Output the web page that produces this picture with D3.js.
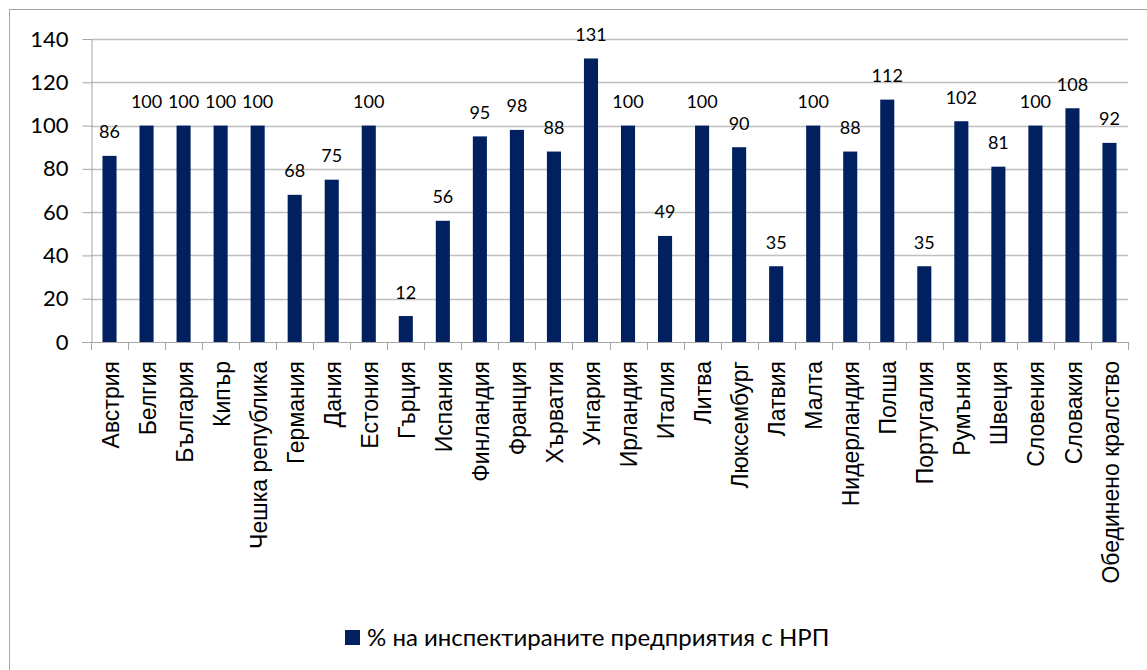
<!DOCTYPE html>
<html>
<head>
<meta charset="utf-8">
<script src="https://cdn.jsdelivr.net/npm/d3@7"></script>
<style>
  body { margin: 0; background: #fff; }
  svg { display: block; }
</style>
</head>
<body>
<div id="vis"></div>
<script>
const FRAME_WIDTH = 1147;
const FRAME_HEIGHT = 670;
const MARGINS = {left: 91, right: 19, top: 39, bottom: 328};

// data
const countries = ["Австрия", "Белгия", "България", "Кипър", "Чешка република", "Германия",
    "Дания", "Естония", "Гърция", "Испания", "Финландия", "Франция", "Хърватия", "Унгария",
    "Ирландия", "Италия", "Литва", "Люксембург", "Латвия", "Малта", "Нидерландия", "Полша",
    "Португалия", "Румъния", "Швеция", "Словения", "Словакия", "Обединено кралство"];
const values = [86, 100, 100, 100, 100, 68, 75, 100, 12, 56, 95, 98, 88, 131, 100, 49,
    100, 90, 35, 100, 88, 112, 35, 102, 81, 100, 108, 92];
const yTicks = [0, 20, 40, 60, 80, 100, 120, 140];
const seriesName = "% на инспектираните предприятия с НРП";

const FRAME = d3.select("#vis")
    .append("svg")
    .attr("width", FRAME_WIDTH)
    .attr("height", FRAME_HEIGHT);

// outer chart border
FRAME.append("rect")
    .attr("x", 9.5)
    .attr("y", 9.5)
    .attr("width", FRAME_WIDTH)
    .attr("height", FRAME_HEIGHT)
    .attr("fill", "none")
    .attr("stroke", "#a6a6a6")
    .attr("stroke-width", 1);

const X_SCALE = d3.scaleBand()
    .domain(countries)
    .range([MARGINS.left, FRAME_WIDTH - MARGINS.right])
    .paddingInner(0.62)
    .paddingOuter(0.31);

const BAND = d3.scaleBand()
    .domain(countries)
    .range([MARGINS.left, FRAME_WIDTH - MARGINS.right]);

const Y_SCALE = d3.scaleLinear()
    .domain([0, 140])
    .range([FRAME_HEIGHT - MARGINS.bottom, MARGINS.top]);

// gridlines
FRAME.append("g")
    .selectAll("line")
    .data(yTicks.slice(1))
    .enter()
    .append("line")
    .attr("x1", MARGINS.left)
    .attr("x2", FRAME_WIDTH - MARGINS.right)
    .attr("y1", (d) => Math.round(Y_SCALE(d)) + 0.5)
    .attr("y2", (d) => Math.round(Y_SCALE(d)) + 0.5)
    .attr("stroke", "#bfbfbf")
    .attr("stroke-width", 1.3);

// bars
FRAME.selectAll(".bar")
    .data(values)
    .enter()
    .append("rect")
    .attr("class", "bar")
    .attr("x", (d, i) => X_SCALE(countries[i]))
    .attr("y", (d) => Y_SCALE(d))
    .attr("width", X_SCALE.bandwidth())
    .attr("height", (d) => Y_SCALE(0) - Y_SCALE(d))
    .style("fill", "#002060");

// data labels
FRAME.selectAll(".lbl")
    .data(values)
    .enter()
    .append("text")
    .attr("class", "lbl")
    .attr("x", (d, i) => BAND(countries[i]) + BAND.bandwidth() / 2)
    .attr("y", (d) => Y_SCALE(d) - 17.5)
    .attr("text-anchor", "middle")
    .style("font-family", "Lato, 'Open Sans', sans-serif")
    .style("font-size", "18px")
    .style("fill", "#000")
    .text((d) => d);

// y axis
const yAxis = FRAME.append("g")
    .attr("transform", "translate(" + (MARGINS.left + 0.5) + ",0)")
    .call(d3.axisLeft(Y_SCALE).tickValues(yTicks).tickSize(9).tickPadding(14).tickSizeOuter(0));
yAxis.select(".domain").attr("stroke", "#a6a6a6");
yAxis.selectAll(".tick line").attr("stroke", "#a6a6a6");
yAxis.selectAll("text")
    .style("font-family", "Lato, 'Open Sans', sans-serif")
    .style("font-size", "22px")
    .style("fill", "#000");

// x axis with tick marks at category boundaries
const xAxisG = FRAME.append("g");
xAxisG.append("line")
    .attr("x1", MARGINS.left - 9)
    .attr("x2", FRAME_WIDTH - MARGINS.right)
    .attr("y1", Y_SCALE(0) + 0.5)
    .attr("y2", Y_SCALE(0) + 0.5)
    .attr("stroke", "#a6a6a6");
xAxisG.selectAll(".xt")
    .data(countries.concat(["end"]))
    .enter()
    .append("line")
    .attr("x1", (d, i) => Math.round(MARGINS.left + i * BAND.step()) + 0.5)
    .attr("x2", (d, i) => Math.round(MARGINS.left + i * BAND.step()) + 0.5)
    .attr("y1", Y_SCALE(0))
    .attr("y2", Y_SCALE(0) + 8)
    .attr("stroke", "#a6a6a6");

xAxisG.selectAll(".cat")
    .data(countries)
    .enter()
    .append("text")
    .attr("class", "cat")
    .attr("transform", (d) => "translate(" + (BAND(d) + BAND.bandwidth() / 2 + 1) + "," + (Y_SCALE(0) + 19) + ") rotate(-90)")
    .attr("text-anchor", "end")
    .attr("dy", "0.35em")
    .style("font-family", "'Liberation Sans', Arial, sans-serif")
    .style("font-size", "23px")
    .style("fill", "#000")
    .text((d) => d);

// legend
const legend = FRAME.append("g")
    .attr("transform", "translate(345,630)");
legend.append("rect")
    .attr("width", 15)
    .attr("height", 15)
    .style("fill", "#002060");
legend.append("text")
    .attr("x", 22)
    .attr("y", 16)
    .style("font-family", "Lato, 'Open Sans', sans-serif")
    .style("font-size", "24px")
    .style("fill", "#000")
    .text(seriesName);
</script>
</body>
</html>
